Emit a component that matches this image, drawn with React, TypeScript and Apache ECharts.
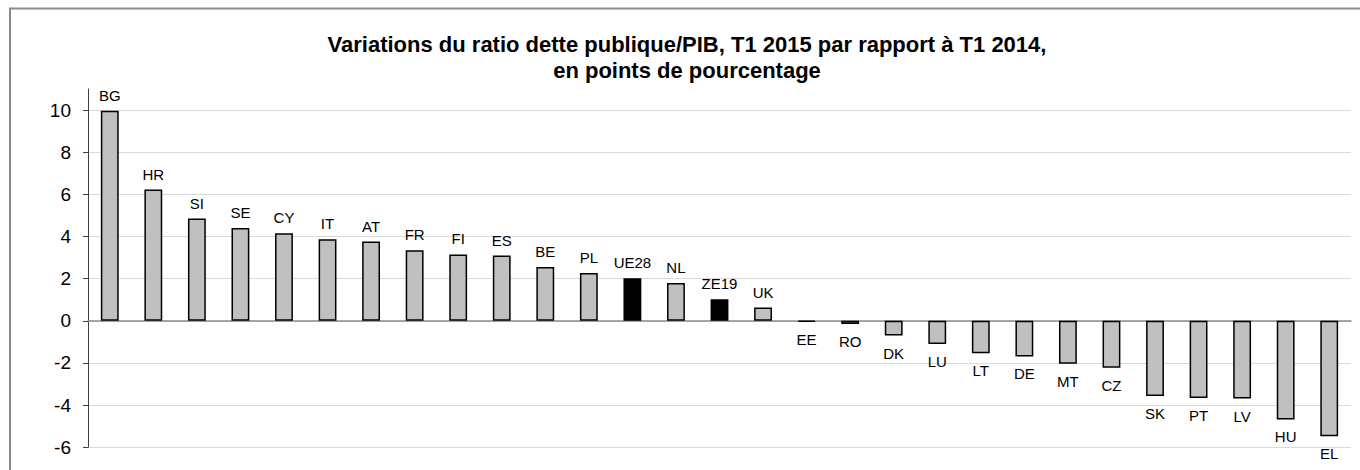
import React, { useEffect, useRef } from "react";
import * as echarts from "echarts";

const categories = ["BG","HR","SI","SE","CY","IT","AT","FR","FI","ES","BE","PL","UE28","NL","ZE19","UK","EE","RO","DK","LU","LT","DE","MT","CZ","SK","PT","LV","HU","EL"];
const values = [9.97,6.23,4.85,4.4,4.15,3.87,3.76,3.35,3.15,3.1,2.56,2.27,2.02,1.8,1.02,0.63,-0.05,-0.15,-0.7,-1.1,-1.54,-1.69,-2.03,-2.22,-3.57,-3.66,-3.69,-4.68,-5.48];
const aggregates = ["UE28", "ZE19"];
const yTicks = [-6,-4,-2,0,2,4,6,8,10];
const titleLines = ["Variations du ratio dette publique/PIB, T1 2015 par rapport à T1 2014,", "en points de pourcentage"];

const FONT = "'Liberation Sans', Arial, Helvetica, sans-serif";

export default function App() {
  const ref = useRef<HTMLDivElement>(null);
  useEffect(() => {
    if (!ref.current) return;
    const chart = echarts.init(ref.current, undefined, { renderer: "svg" });
    const data = values.map((v, i) => ({
      value: v,
      itemStyle: aggregates.includes(categories[i]) ? { color: "#000000" } : undefined,
      label: v < 0 ? { position: "bottom", distance: 10 } : { position: "top", distance: 8 },
    }));
    chart.setOption({
      animation: false,
      backgroundColor: "#ffffff",
      textStyle: { fontFamily: FONT },
      graphic: [
        { type: "rect", shape: { x: 10, y: 8.5, width: 1400, height: 500 }, style: { fill: "none", stroke: "#8a8a8a", lineWidth: 2 }, silent: true },
        { type: "text", x: 687, y: 31, style: { text: titleLines.join("\n"), fill: "#000", font: `bold 22px ${FONT}`, textAlign: "center", textVerticalAlign: "top", lineHeight: 26 } },
      ],
      grid: { left: 88, right: 9, top: 89, bottom: 22.7, containLabel: false },
      xAxis: {
        type: "category",
        data: categories,
        axisLabel: { show: false },
        axisTick: { show: false },
        axisLine: { onZero: true, lineStyle: { color: "#8c8c8c", width: 1.5 } },
        splitLine: { show: false },
      },
      yAxis: {
        type: "value",
        min: -6,
        max: 11,
        interval: 2,
        axisLine: { show: true, lineStyle: { color: "#404040", width: 1 } },
        axisTick: { show: true, length: 5, customValues: yTicks, lineStyle: { color: "#404040" } },
        axisLabel: { fontSize: 19, color: "#000", margin: 17, fontFamily: FONT, customValues: yTicks },
        splitLine: { show: true, lineStyle: { color: "#d9d9d9", width: 1 } },
      },
      series: [
        {
          type: "bar",
          data,
          barWidth: "41%",
          itemStyle: { color: "#c0c0c0", borderColor: "#000000", borderWidth: 1.5 },
          label: { show: true, formatter: (p: any) => categories[p.dataIndex], fontSize: 15, color: "#000", fontFamily: FONT },
        },
      ],
    });
    return () => chart.dispose();
  }, []);
  return <div ref={ref} style={{ position: "fixed", left: 0, top: 0, width: 1360, height: 470 }} />;
}
